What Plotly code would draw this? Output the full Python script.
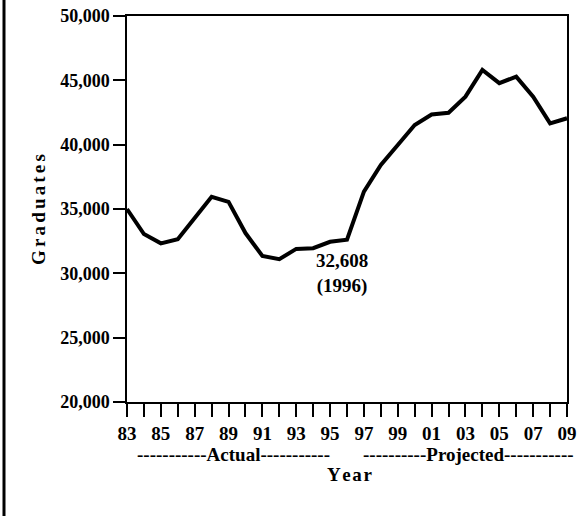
import plotly.graph_objects as go

years = list(range(1983, 2010))
graduates = [35000, 33050, 32330, 32650, 34300, 35950, 35550, 33130, 31350, 31100,
             31900, 31950, 32450, 32608, 36350, 38420, 39980, 41530, 42350, 42480,
             43730, 45800, 44780, 45290, 43730, 41660, 42050]
xtick_vals = years
xtick_text = [str(y)[-2:] if (y - 1983) % 2 == 0 else "" for y in years]
ytick_vals = [20000, 25000, 30000, 35000, 40000, 45000, 50000]
ytick_text = ["20,000", "25,000", "30,000", "35,000", "40,000", "45,000", "50,000"]
label_year = 1996
label_value = 32608

SERIF = "Liberation Serif"
W, H = 580, 516
L, R, T, B = 127, 13, 16, 114
pw, ph = W - L - R, H - T - B

def px(x):
    return (x - L) / pw

def py(y):
    return (H - B - y) / ph

fig = go.Figure()
fig.add_trace(go.Scatter(x=years, y=graduates, mode="lines",
                         line=dict(color="black", width=4), hoverinfo="skip"))

fig.update_layout(
    width=W, height=H,
    margin=dict(l=L, r=R, t=T, b=B, pad=0, autoexpand=False),
    plot_bgcolor="white", paper_bgcolor="white",
    showlegend=False,
    font=dict(family=SERIF, color="black", size=17),
)
fig.update_xaxes(
    range=[1983, 2009], tickmode="array", tickvals=xtick_vals, ticktext=xtick_text,
    ticks="outside", ticklen=13, tickwidth=1.5, tickcolor="black",
    showline=True, linecolor="black", linewidth=1.5, mirror=True,
    showgrid=False, zeroline=False, automargin=False,
    tickfont=dict(family=SERIF, size=19, weight="bold", color="black"),
)
fig.update_yaxes(
    range=[20000, 50000], tickmode="array", tickvals=ytick_vals, ticktext=ytick_text,
    ticks="outside", ticklen=12, tickwidth=1.5, tickcolor="black",
    showline=True, linecolor="black", linewidth=1.5, mirror=True,
    showgrid=False, zeroline=False, automargin=False,
    tickfont=dict(family=SERIF, size=18, weight="bold", color="black"),
)

fig.add_annotation(x=label_year, y=label_value, xref="x", yref="y",
                   text=f"{label_value:,}<br>({label_year})", showarrow=False,
                   xanchor="center", yanchor="top", xshift=-5, yshift=-8,
                   font=dict(family=SERIF, size=19, weight="bold", color="black"))

bold = dict(family=SERIF, size=19, weight="bold", color="black")
fig.add_annotation(x=px(233), y=py(454), xref="paper", yref="paper",
                   text="-----------Actual-----------", showarrow=False,
                   xanchor="center", yanchor="middle", font=bold)
fig.add_annotation(x=px(468), y=py(454), xref="paper", yref="paper",
                   text="----------Projected-----------", showarrow=False,
                   xanchor="center", yanchor="middle", font=bold)
fig.add_annotation(x=px(349), y=py(474), xref="paper", yref="paper",
                   text="Y\u200ae\u200aa\u200ar", showarrow=False,
                   xanchor="center", yanchor="middle", font=bold)
fig.add_annotation(x=px(38), y=py(210), xref="paper", yref="paper",
                   text="G\u2006r\u2006a\u2006d\u2006u\u2006a\u2006t\u2006e\u2006s",
                   showarrow=False, textangle=-90,
                   xanchor="center", yanchor="middle", font=bold)

fig.add_shape(type="line", xref="paper", yref="paper",
              x0=px(4), x1=px(4), y0=py(0), y1=py(516),
              line=dict(color="black", width=3))

fig.write_html("out.html", config={"displayModeBar": False},
               post_script="document.body.style.margin='0px';document.body.style.overflow='hidden';")
